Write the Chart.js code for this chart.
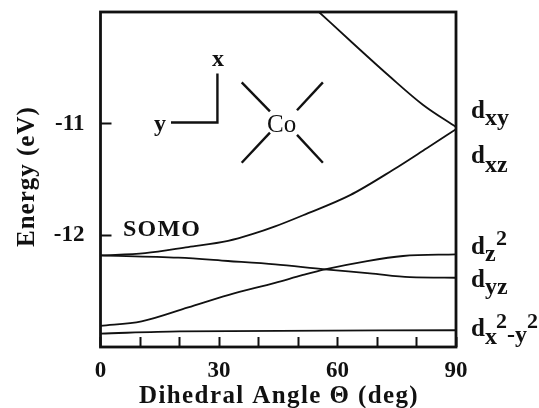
<!DOCTYPE html>
<html>
<head>
<meta charset="utf-8">
<style>
  html, body { margin: 0; padding: 0; background: #fff; }
  canvas { display: block; }
</style>
<script src="https://cdn.jsdelivr.net/npm/chart.js@4/dist/chart.umd.min.js"></script>
</head>
<body>
<canvas id="myChart" width="539" height="408"></canvas>
<script>
// angle (deg) and energy (eV)
const dxyAngle = [55.3, 63.9, 73.3, 81.6, 90]
const dxyEnergy = [-10, -10.28, -10.58, -10.83, -11.03]
const dxzAngle = [0, 11.3, 22.2, 32.3, 38.4, 44.2, 51.3, 63.2, 74, 82.6, 90]
const dxzEnergy = [-12.18, -12.16, -12.105, -12.05, -11.99, -11.92, -11.82, -11.64, -11.415, -11.22, -11.05]
const dyzAngle = [0, 19.7, 32.3, 44.2, 56.8, 68.2, 78.3, 90]
const dyzEnergy = [-12.18, -12.2, -12.23, -12.26, -12.305, -12.34, -12.375, -12.38]
const dz2Angle = [0, 10.4, 22.2, 32.3, 44.2, 51.3, 56.8, 67.5, 76.6, 90]
const dz2Energy = [-12.81, -12.77, -12.645, -12.535, -12.425, -12.355, -12.305, -12.23, -12.185, -12.17]
const dx2y2Angle = [0, 20, 90]
const dx2y2Energy = [-12.88, -12.86, -12.85]

const xTickLabels = [0, 30, 60, 90]
const yTickLabels = [-11, -12]

// the little Co sketch, in the same angle/energy units
const insetLines = [
  [[29.6, -10.55], [29.6, -10.99], [17.85, -10.99]],
  [[35.75, -10.63], [42.9, -10.89]],
  [[56.3, -10.63], [49.75, -10.88]],
  [[35.75, -11.35], [42.9, -11.08]],
  [[56.3, -11.35], [49.75, -11.1]]
]

const serif = '"Liberation Serif", serif'

function toPoints(xs, ys) {
  return xs.map((x, i) => ({ x, y: ys[i] }))
}

function curve(xs, ys) {
  return {
    data: toPoints(xs, ys),
    borderColor: '#111',
    borderWidth: 1.8,
    pointRadius: 0,
    cubicInterpolationMode: 'monotone'
  }
}

function text(ctx, str, x, y, size, weight = 'bold', spacing = 0) {
  ctx.font = `${weight} ${size}px ${serif}`
  ctx.letterSpacing = `${spacing}px`
  ctx.fillText(str, x, y)
  ctx.letterSpacing = '0px'
}

const annotations = {
  id: 'annotations',
  afterDraw(chart) {
    const { ctx, chartArea: a, scales: { x, y } } = chart
    ctx.save()
    ctx.strokeStyle = '#111'
    ctx.fillStyle = '#111'
    ctx.textAlign = 'left'
    ctx.textBaseline = 'alphabetic'

    // frame
    ctx.lineWidth = 2.8
    ctx.strokeRect(a.left, a.top, a.right - a.left, a.bottom - a.top)

    // sketch
    ctx.lineWidth = 2.4
    insetLines.forEach(line => {
      ctx.beginPath()
      line.forEach(([px, py], i) => {
        const sx = x.getPixelForValue(px)
        const sy = y.getPixelForValue(py)
        if (i === 0) ctx.moveTo(sx, sy)
        else ctx.lineTo(sx, sy)
      })
      ctx.stroke()
    })
    text(ctx, 'x', 212, 66, 24)
    text(ctx, 'y', 154, 131, 24)
    text(ctx, 'Co', 267, 132, 25, 'normal')
    text(ctx, 'SOMO', 123, 236, 24, 'bold', 1.2)

    // orbital labels
    text(ctx, 'd', 471, 118, 25)
    text(ctx, 'xy', 485, 125, 24)
    text(ctx, 'd', 471, 163, 25)
    text(ctx, 'xz', 485, 172, 24)
    text(ctx, 'd', 471, 254, 25)
    text(ctx, 'z', 485, 261, 24)
    text(ctx, '2', 496, 245, 22)
    text(ctx, 'd', 471, 287, 25)
    text(ctx, 'yz', 485, 294, 24)
    text(ctx, 'd', 471, 336, 25)
    text(ctx, 'x', 485, 344, 24)
    text(ctx, '2', 496, 328, 22)
    text(ctx, '-y', 507, 342, 24)
    text(ctx, '2', 527, 328, 22)

    // axis titles
    text(ctx, 'Dihedral Angle Θ (deg)', 139, 403, 25, 'bold', 1.4)
    ctx.translate(34, 247)
    ctx.rotate(-Math.PI / 2)
    text(ctx, 'Energy (eV)', 0, 0, 25, 'bold', 1)
    ctx.restore()
  }
}

const ctx = document.getElementById('myChart')

// eslint-disable-next-line no-unused-vars
const myChart = new Chart(ctx, {
  type: 'line',
  data: {
    datasets: [
      curve(dxyAngle, dxyEnergy),
      curve(dxzAngle, dxzEnergy),
      curve(dyzAngle, dyzEnergy),
      curve(dz2Angle, dz2Energy),
      curve(dx2y2Angle, dx2y2Energy)
    ]
  },
  options: {
    responsive: false,
    animation: false,
    layout: { autoPadding: false, padding: { top: 12, right: 83, bottom: 0, left: 0 } },
    plugins: {
      legend: { display: false },
      tooltip: { enabled: false }
    },
    scales: {
      x: {
        type: 'linear',
        min: 0,
        max: 90,
        afterFit: scale => {
          scale.height = 61
          scale.paddingLeft = scale.paddingRight = scale.paddingTop = scale.paddingBottom = 0
        },
        afterBuildTicks: scale => {
          scale.ticks = [0, 10, 20, 30, 40, 50, 60, 70, 80, 90].map(value => ({ value }))
        },
        border: { display: false },
        grid: { drawOnChartArea: false, tickLength: -10, tickWidth: 2, tickColor: '#111' },
        ticks: {
          autoSkip: false,
          maxRotation: 0,
          padding: 20,
          color: '#111',
          font: { family: serif, size: 23, weight: 'bold' },
          callback: value => (xTickLabels.includes(value) ? String(value) : '')
        }
      },
      y: {
        min: -13,
        max: -10,
        afterFit: scale => {
          scale.width = 100.5
          scale.paddingLeft = scale.paddingRight = scale.paddingTop = scale.paddingBottom = 0
        },
        afterBuildTicks: scale => {
          scale.ticks = yTickLabels.map(value => ({ value }))
        },
        border: { display: false },
        grid: { drawOnChartArea: false, tickLength: -11, tickWidth: 2, tickColor: '#111' },
        ticks: {
          padding: 27,
          color: '#111',
          font: { family: serif, size: 23, weight: 'bold' },
          callback: value => String(value)
        }
      }
    }
  },
  plugins: [annotations]
})
</script>
</body>
</html>
